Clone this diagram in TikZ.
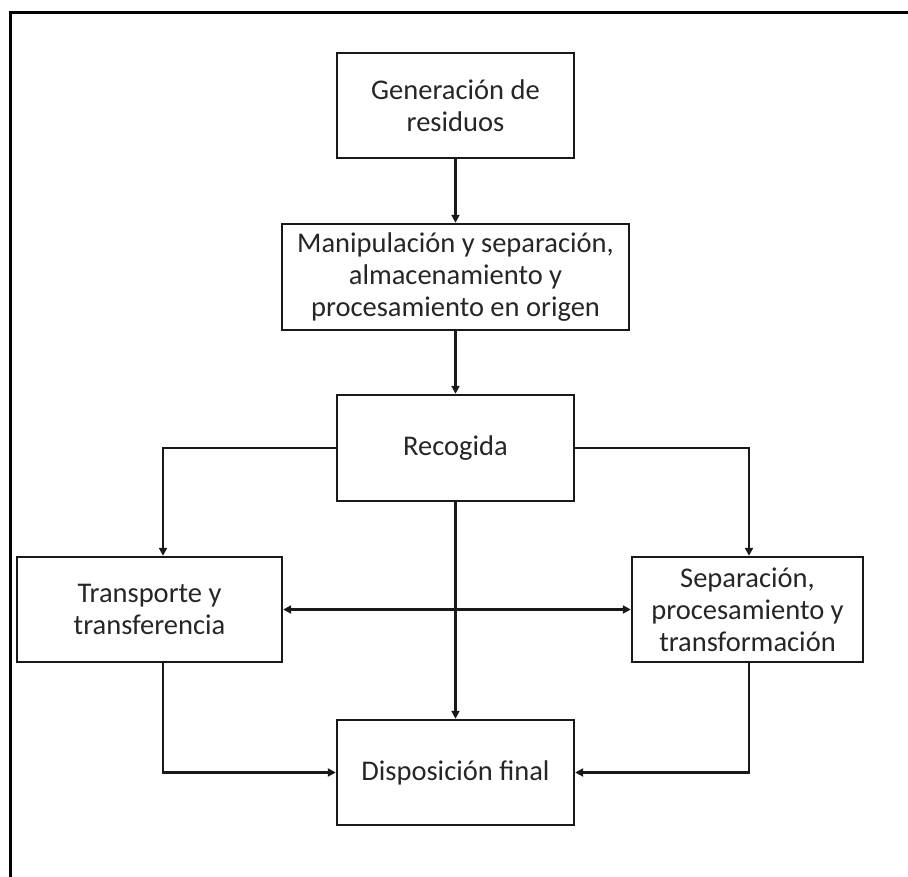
\documentclass[tikz,border=0pt]{standalone}
\usepackage{fontspec}
\setmainfont{Carlito}
\usetikzlibrary{arrows.meta}
\begin{document}
\begin{tikzpicture}[x=1pt,y=-1pt,
  box/.style={draw=black!90,line width=2.4pt,fill=white,align=center,inner sep=0pt,
    font=\fontsize{28.5}{32}\selectfont,text=black!85},
  conn/.style={draw=black!90,line width=2.2pt,-{Triangle[length=8pt,width=8pt]}},
  dconn/.style={draw=black!90,line width=2.2pt,{Triangle[length=8pt,width=8pt]}-{Triangle[length=8pt,width=8pt]}}]
\useasboundingbox (0,0) rectangle (908,877);
\fill[white] (0,0) rectangle (908,877);
\draw[line width=3pt] (10,877) -- (10,13) -- (908,13);

\node[box,minimum width=237pt,minimum height=105pt] (b1) at (455.5,105.5) {Generación de\\residuos};
\node[box,minimum width=347pt,minimum height=106pt] (b2) at (455.5,277) {Manipulación y separación,\\almacenamiento y\\procesamiento en origen};
\node[box,minimum width=237pt,minimum height=106pt] (b3) at (455.5,448) {Recogida};
\node[box,minimum width=265pt,minimum height=105pt] (b4) at (149.5,609.5) {Transporte y\\transferencia};
\node[box,minimum width=231pt,minimum height=105pt] (b5) at (747.5,609.5) {Separación,\\procesamiento y\\transformación};
\node[box,minimum width=237pt,minimum height=105pt] (b6) at (455.5,772.5) {Disposición final};

\draw[conn] (b1.south) -- (b2.north);
\draw[conn] (b2.south) -- (b3.north);
\draw[conn] (b3.west) -| ([xshift=13.5pt]b4.north);
\draw[conn] (b3.east) -| ([xshift=1.5pt]b5.north);
\draw[conn] (b3.south) -- (b6.north);
\draw[dconn] (b4.east) -- (b5.west);
\draw[conn] ([xshift=13.5pt]b4.south) |- (b6.west);
\draw[conn] ([xshift=1.5pt]b5.south) |- (b6.east);
\end{tikzpicture}
\end{document}
